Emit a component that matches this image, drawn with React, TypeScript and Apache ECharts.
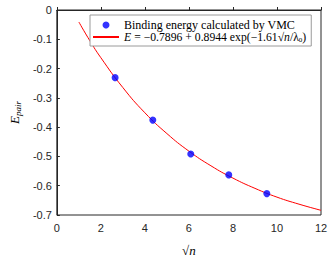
import React, { useEffect, useRef } from "react";
import * as echarts from "echarts";

// VMC binding energy points (x = sqrt(n))
const vmcX = [2.646, 4.359, 6.083, 7.81, 9.539];
const vmcY = [-0.231, -0.376, -0.492, -0.563, -0.627];

// Fitted curve
const fitX = [1, 1.5, 2, 3, 4, 5, 6, 7, 8, 9, 10, 11, 12];
const fitY = [-0.041, -0.105, -0.163, -0.265, -0.351, -0.422, -0.482, -0.532, -0.574, -0.609, -0.639, -0.663, -0.684];

const xTicks = [0, 2, 4, 6, 8, 10, 12];
const yTicks = [-0.7, -0.6, -0.5, -0.4, -0.3, -0.2, -0.1, 0];

const legendNames = ["Binding energy calculated by VMC", "fit"];

const serif = "'Liberation Serif', 'DejaVu Serif', serif";
const sans = "'Liberation Sans', Arial, sans-serif";
const axisColor = "#262626";

export default function App() {
  const ref = useRef<HTMLDivElement>(null);
  useEffect(() => {
    if (!ref.current) return;
    const chart = echarts.init(ref.current, null, { renderer: "svg" });
    const fmt = (v: number) => (Math.abs(v) < 1e-9 ? "0" : Number(v).toFixed(1));
    chart.setOption({
      animation: false,
      backgroundColor: "#ffffff",
      grid: {
        left: 43,
        right: 11,
        top: 10,
        bottom: 39,
        show: true,
        borderColor: axisColor,
        borderWidth: 1,
        backgroundColor: "transparent",
      },
      legend: {
        orient: "vertical",
        left: 90,
        top: 15,
        padding: [4, 5, 3, 2],
        itemGap: 0,
        itemWidth: 26,
        itemHeight: 7,
        backgroundColor: "#ffffff",
        borderColor: "#9a9a9a",
        borderWidth: 1,
        borderRadius: 0,
        data: [
          { name: legendNames[0], icon: "circle" },
          { name: legendNames[1], itemStyle: { color: "transparent", borderColor: "transparent", borderWidth: 0 } },
        ],
        textStyle: {
          fontFamily: serif,
          fontSize: 12,
          lineHeight: 11,
          color: "#000",
          rich: {
            b: { fontFamily: serif, fontSize: 12, lineHeight: 11, color: "#000" },
            i: { fontFamily: serif, fontSize: 11.7, lineHeight: 11, fontStyle: "italic", color: "#000" },
            r: { fontFamily: serif, fontSize: 11.7, lineHeight: 11, color: "#000" },
            s: { fontFamily: serif, fontSize: 7, lineHeight: 11, color: "#000", padding: [5, 0, 0, 0] },
          },
        },
        formatter: (name: string) =>
          name === "fit"
            ? "{i|E} {r|= −0.7896 + 0.8944 exp(−1.61√}{i|n}{r|/λ}{s|0}{r|)}"
            : "{b|" + name + "}",
      },
      xAxis: {
        type: "value",
        min: 0,
        max: 12,
        interval: 2,
        name: "√n",
        nameLocation: "middle",
        nameGap: 29,
        nameTextStyle: { fontFamily: serif, fontSize: 13, fontStyle: "italic", color: "#000" },
        axisLine: { lineStyle: { color: axisColor, width: 1 } },
        axisTick: { inside: true, length: 3, lineStyle: { color: axisColor } },
        axisLabel: { fontFamily: sans, fontSize: 11, color: axisColor, margin: 7, formatter: (v: number) => String(v) },
        splitLine: { show: false },
        data: xTicks,
      },
      yAxis: {
        type: "value",
        min: -0.7,
        max: 0,
        interval: 0.1,
        name: "{i|E}{s|pair}",
        nameLocation: "middle",
        nameRotate: 90,
        nameGap: 34,
        nameTextStyle: {
          rich: {
            i: { fontFamily: serif, fontSize: 13, fontStyle: "italic", color: "#000" },
            s: { fontFamily: serif, fontSize: 9, fontStyle: "italic", color: "#000", padding: [6, 0, 0, 0] },
          },
        },
        axisLine: { show: true, lineStyle: { color: axisColor, width: 1 } },
        axisTick: { show: true, inside: true, length: 3, lineStyle: { color: axisColor } },
        axisLabel: { fontFamily: sans, fontSize: 11, color: axisColor, margin: 5, formatter: fmt },
        splitLine: { show: false },
        data: yTicks,
      },
      series: [
        {
          name: legendNames[0],
          type: "scatter",
          symbol: "circle",
          symbolSize: 7,
          itemStyle: { color: "#0000ff" },
          data: vmcX.map((x, i) => [x, vmcY[i]]),
          z: 3,
        },
        {
          name: legendNames[1],
          type: "line",
          symbol: "none",
          smooth: true,
          lineStyle: { color: "#ff0000", width: 1 },
          itemStyle: { color: "#ff0000" },
          data: fitX.map((x, i) => [x, fitY[i]]),
          z: 2,
        },
      ],
    });
    return () => chart.dispose();
  }, []);
  return (
    <div
      ref={ref}
      style={{ position: "fixed", left: 0, top: 0, width: 332, height: 262, background: "#fff" }}
    />
  );
}
